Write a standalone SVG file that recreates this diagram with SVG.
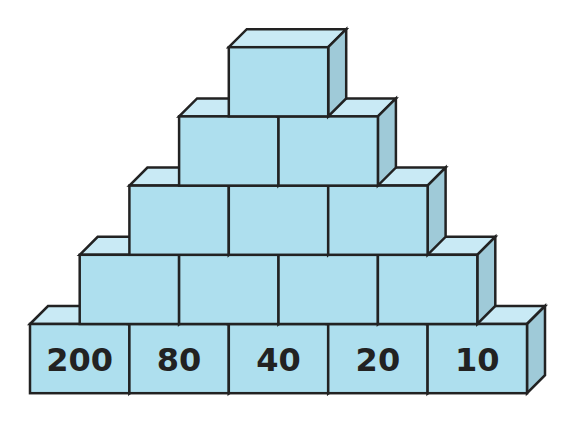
<svg xmlns="http://www.w3.org/2000/svg" xmlns:xlink="http://www.w3.org/1999/xlink" width="573" height="423" viewBox="0 0 573 423">
<style>
.top{fill:#c9eaf5;stroke:#222;stroke-width:2.5;stroke-linejoin:miter}
.side{fill:#9fcad8;stroke:#222;stroke-width:2.5}
.front{fill:#aedfee;stroke:#222;stroke-width:2.5}
.lbl{font-family:"DejaVu Sans",Verdana,sans-serif;font-weight:bold;font-size:32px;fill:#222;text-anchor:middle}
</style>
<defs>
<g id="box">
<path class="top" d="M0,0 L18,-18 L117.4,-18 L99.4,0 Z"/>
<path class="side" d="M99.4,0 L117.4,-18 L117.4,51.2 L99.4,69.2 Z"/>
<rect class="front" x="0" y="0" width="99.4" height="69.2"/>
</g>
</defs>
<rect width="573" height="423" fill="#fff"/>
<g id="connectors"></g>
<g id="row0">
<g id="b200" transform="translate(30,324)"><use xlink:href="#box"/><text class="lbl" x="49.7" y="47">200</text></g>
<g id="b80" transform="translate(129.4,324)"><use xlink:href="#box"/><text class="lbl" x="49.7" y="47">80</text></g>
<g id="b40" transform="translate(228.8,324)"><use xlink:href="#box"/><text class="lbl" x="49.7" y="47">40</text></g>
<g id="b20" transform="translate(328.2,324)"><use xlink:href="#box"/><text class="lbl" x="49.7" y="47">20</text></g>
<g id="b10" transform="translate(427.6,324)"><use xlink:href="#box"/><text class="lbl" x="49.7" y="47">10</text></g>
</g>
<g id="row1">
<g id="r1b1" transform="translate(79.7,254.8)"><use xlink:href="#box"/></g>
<g id="r1b2" transform="translate(179.1,254.8)"><use xlink:href="#box"/></g>
<g id="r1b3" transform="translate(278.5,254.8)"><use xlink:href="#box"/></g>
<g id="r1b4" transform="translate(377.9,254.8)"><use xlink:href="#box"/></g>
</g>
<g id="row2">
<g id="r2b1" transform="translate(129.4,185.6)"><use xlink:href="#box"/></g>
<g id="r2b2" transform="translate(228.8,185.6)"><use xlink:href="#box"/></g>
<g id="r2b3" transform="translate(328.2,185.6)"><use xlink:href="#box"/></g>
</g>
<g id="row3">
<g id="r3b1" transform="translate(179.1,116.4)"><use xlink:href="#box"/></g>
<g id="r3b2" transform="translate(278.5,116.4)"><use xlink:href="#box"/></g>
</g>
<g id="row4">
<g id="r4b1" transform="translate(228.8,47.2)"><use xlink:href="#box"/></g>
</g>
</svg>
